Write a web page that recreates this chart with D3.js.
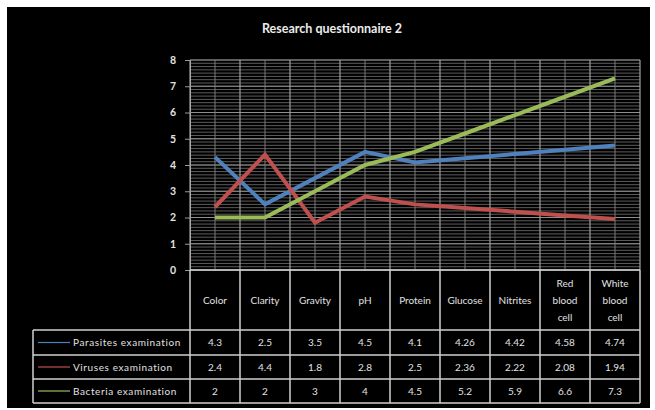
<!DOCTYPE html>
<html>
<head>
<meta charset="utf-8">
<script src="https://cdn.jsdelivr.net/npm/d3@7"></script>
<style>
  body { margin: 0; background: #fff; }
  svg { display: block; }
  text { font-family: Lato, "Open Sans", sans-serif; }
</style>
</head>
<body>
<div id="chart"></div>
<script>
// chart data
const categories = ['Color', 'Clarity', 'Gravity', 'pH', 'Protein', 'Glucose', 'Nitrites', 'Red blood cell', 'White blood cell'];
const seriesNames = ['Parasites examination', 'Viruses examination', 'Bacteria examination'];
const parasites = [4.3, 2.5, 3.5, 4.5, 4.1, 4.26, 4.42, 4.58, 4.74];
const viruses = [2.4, 4.4, 1.8, 2.8, 2.5, 2.36, 2.22, 2.08, 1.94];
const bacteria = [2, 2, 3, 4, 4.5, 5.2, 5.9, 6.6, 7.3];
const yTicks = [0, 1, 2, 3, 4, 5, 6, 7, 8];
const valueLabels = [
  ['4.3', '2.5', '3.5', '4.5', '4.1', '4.26', '4.42', '4.58', '4.74'],
  ['2.4', '4.4', '1.8', '2.8', '2.5', '2.36', '2.22', '2.08', '1.94'],
  ['2', '2', '3', '4', '4.5', '5.2', '5.9', '6.6', '7.3']
];

const W = 655, H = 410;
const margin = { top: 60, left: 190, right: 15, bottom: 140 };
const colors = ['#4F81BD', '#C0504D', '#9BBB59'];
const textColor = '#e2e2e2';

const svg = d3.select('#chart').append('svg')
  .attr('width', W)
  .attr('height', H);

// black chart area
svg.append('rect')
  .attr('x', 7).attr('y', 7)
  .attr('width', 643).attr('height', 401)
  .attr('fill', '#000');

// title
svg.append('text')
  .attr('x', 332).attr('y', 33)
  .attr('text-anchor', 'middle')
  .attr('fill', '#ececec')
  .style('font-size', '12.5px')
  .style('font-weight', 'bold')
  .text('Research questionnaire 2');

// scales
const x = d3.scaleBand().domain(categories).range([margin.left, W - margin.right]).padding(0);
const y = d3.scaleLinear().domain([0, 8]).range([270, 60]);
const bw = x.bandwidth();
const xRight = x.range()[1];

// minor horizontal grid
const minor = d3.range(0, 8.001, 0.125);
svg.append('g')
  .selectAll('line')
  .data(minor)
  .join('line')
  .attr('x1', margin.left).attr('x2', xRight)
  .attr('y1', d => y(d)).attr('y2', d => y(d))
  .attr('stroke', '#747474')
  .attr('stroke-width', 0.8);

// y axis
const yAxis = svg.append('g')
  .attr('transform', `translate(${margin.left},0)`)
  .call(d3.axisLeft(y).tickValues(yTicks).tickFormat(d3.format('d')).tickSize(5).tickPadding(9));
yAxis.select('.domain').attr('stroke', '#bbb');
yAxis.selectAll('.tick line').attr('stroke', '#999');
yAxis.selectAll('.tick text').attr('fill', textColor).style('font-size', '10.5px').style('font-weight', 'bold').style('font-family', 'Lato, sans-serif');

// major horizontal grid
svg.append('g')
  .selectAll('line')
  .data(yTicks)
  .join('line')
  .attr('x1', margin.left).attr('x2', xRight)
  .attr('y1', d => y(d)).attr('y2', d => y(d))
  .attr('stroke', '#8f8f8f')
  .attr('stroke-width', 1);

// vertical grid: category centers (minor) and boundaries (major)
svg.append('g')
  .selectAll('line')
  .data(categories)
  .join('line')
  .attr('x1', d => x(d) + bw / 2).attr('x2', d => x(d) + bw / 2)
  .attr('y1', y(8)).attr('y2', y(0))
  .attr('stroke', '#7a7a7a')
  .attr('stroke-width', 1);

const bounds = categories.map(d => x(d)).concat([xRight]);
svg.append('g')
  .selectAll('line')
  .data(bounds)
  .join('line')
  .attr('x1', d => d).attr('x2', d => d)
  .attr('y1', y(8)).attr('y2', y(0))
  .attr('stroke', '#a0a0a0')
  .attr('stroke-width', 1.2);

// lines
const series = [parasites, viruses, bacteria];
const line = d3.line()
  .x((d, i) => x(categories[i]) + bw / 2)
  .y(d => y(d));

svg.append('g')
  .selectAll('path')
  .data(series)
  .join('path')
  .attr('d', d => line(d))
  .attr('fill', 'none')
  .attr('stroke', (d, i) => colors[i])
  .attr('stroke-width', 4)
  .attr('stroke-linejoin', 'miter');

// data table
const tableColor = '#d0d0d0';
const headTop = y(0), headBottom = 330;
const rowH = [330, 355, 379, 403];
const legendLeft = 33;

const tbl = svg.append('g').attr('stroke', tableColor).attr('stroke-width', 1.5);
tbl.selectAll('.hv')
  .data(bounds)
  .join('line')
  .attr('class', 'hv')
  .attr('x1', d => d).attr('x2', d => d)
  .attr('y1', headTop).attr('y2', rowH[3]);
tbl.append('line')
  .attr('x1', margin.left).attr('x2', xRight)
  .attr('y1', headTop).attr('y2', headTop);
tbl.selectAll('.rh')
  .data(rowH)
  .join('line')
  .attr('class', 'rh')
  .attr('x1', legendLeft).attr('x2', xRight)
  .attr('y1', d => d).attr('y2', d => d);
tbl.append('line')
  .attr('x1', legendLeft).attr('x2', legendLeft)
  .attr('y1', rowH[0]).attr('y2', rowH[3]);

// header labels
const head = svg.append('g');
categories.forEach(c => {
  const words = c.split(' ');
  const lines = words.length > 1 ? words : [c];
  const lh = 17;
  const y0 = (headTop + headBottom) / 2 - (lines.length - 1) * lh / 2;
  lines.forEach((w, k) => {
    head.append('text')
      .attr('x', x(c) + bw / 2)
      .attr('y', y0 + k * lh)
      .attr('dy', '0.35em')
      .attr('text-anchor', 'middle')
      .attr('fill', textColor)
      .style('font-size', '10px')
      .text(w);
  });
});

// value cells + legend keys
series.forEach((s, r) => {
  const cy = (rowH[r] + rowH[r + 1]) / 2;
  svg.append('line')
    .attr('x1', 38).attr('x2', 70)
    .attr('y1', cy).attr('y2', cy)
    .attr('stroke', colors[r])
    .attr('stroke-width', 1.2);
  svg.append('text')
    .attr('x', 73).attr('y', cy)
    .attr('dy', '0.35em')
    .attr('fill', textColor)
    .style('font-size', '10px')
    .style('letter-spacing', '0.6px')
    .text(seriesNames[r]);
  categories.forEach((c, i) => {
    svg.append('text')
      .attr('x', x(c) + bw / 2)
      .attr('y', cy)
      .attr('dy', '0.35em')
      .attr('text-anchor', 'middle')
      .attr('fill', textColor)
      .style('font-size', '10px')
      .text(valueLabels[r][i]);
  });
});
</script>
</body>
</html>
